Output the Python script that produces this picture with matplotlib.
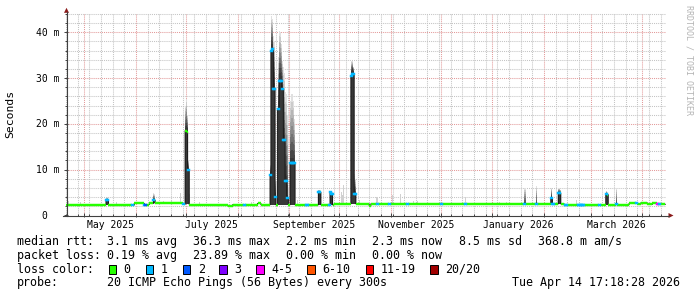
# smokeping style latency graph, one year view
import numpy as np
import pandas as pd
import matplotlib
matplotlib.use("Agg")
import matplotlib.pyplot as plt
import matplotlib.dates as mdates
import matplotlib.transforms as mtransforms
from matplotlib.collections import LineCollection
from matplotlib.patches import Polygon, Rectangle
from matplotlib.lines import Line2D
from matplotlib.ticker import MultipleLocator

plt.rcParams['font.family'] = ['DejaVu Sans Mono']

W, H = 697, 297

# time frame (12 h consolidation steps)
view_start = "2025-04-20 00:00"
view_end = "2026-04-15 04:00"
last_update = "2026-04-14 17:18"

# median rtt baseline in ms, each level holds from its date on
base_dates = ["2025-04-20", "2025-05-29", "2025-05-31", "2025-06-06", "2025-06-09",
              "2025-06-29", "2025-07-03", "2025-07-26", "2025-07-29", "2025-08-13",
              "2025-08-15", "2025-09-28", "2025-10-19", "2025-10-20", "2026-01-01",
              "2026-02-13", "2026-03-24", "2026-03-29", "2026-03-31", "2026-04-04",
              "2026-04-07", "2026-04-10"]
base_ms = [2.3, 2.25, 2.6, 2.35, 2.6,
           2.4, 2.3, 2.1, 2.3, 2.6,
           2.3, 2.5, 2.1, 2.5, 2.5,
           2.3, 2.6, 2.4, 2.7, 2.4,
           2.6, 2.4]

# spike samples: median, top of dense smoke, max ping (ms), lost pings of 20
spike_dates = ["2025-05-14 00:00", "2025-05-14 12:00", "2025-05-15 00:00",
               "2025-06-11 12:00", "2025-06-12 00:00",
               "2025-06-30 12:00", "2025-07-01 00:00", "2025-07-01 12:00",
               "2025-07-02 00:00", "2025-07-02 12:00",
               "2025-08-20 12:00", "2025-08-21 00:00", "2025-08-21 12:00",
               "2025-08-22 00:00", "2025-08-22 12:00", "2025-08-23 00:00",
               "2025-08-23 12:00", "2025-08-25 00:00", "2025-08-25 12:00",
               "2025-08-26 00:00", "2025-08-26 12:00", "2025-08-27 00:00",
               "2025-08-27 12:00", "2025-08-28 00:00", "2025-08-28 12:00",
               "2025-08-29 00:00", "2025-08-29 12:00", "2025-08-30 00:00",
               "2025-08-30 12:00", "2025-08-31 00:00",
               "2025-09-01 12:00", "2025-09-02 00:00", "2025-09-02 12:00",
               "2025-09-03 00:00", "2025-09-03 12:00", "2025-09-04 00:00",
               "2025-09-18 12:00", "2025-09-19 00:00", "2025-09-19 12:00",
               "2025-09-25 12:00", "2025-09-26 00:00", "2025-09-26 12:00",
               "2025-10-08 00:00", "2025-10-08 12:00", "2025-10-09 00:00",
               "2025-10-09 12:00", "2025-10-10 00:00", "2025-10-10 12:00",
               "2026-01-20 00:00", "2026-01-20 12:00", "2026-01-27 00:00",
               "2026-02-05 00:00", "2026-02-05 12:00",
               "2026-02-09 12:00", "2026-02-10 00:00", "2026-02-10 12:00",
               "2026-03-10 00:00", "2026-03-10 12:00", "2026-03-11 00:00",
               "2026-03-16 00:00"]
spike_med = [3.4, 3.4, 3.3,
             3.4, 3.3,
             18.5, 18.5, 18.3,
             9.8, 9.8,
             8.7, 36.0, 36.3,
             36.0, 27.6, 27.6,
             3.9, 23.2, 23.2,
             29.3, 29.3, 29.3,
             27.6, 27.6, 16.5,
             16.5, 7.6, 7.6,
             3.7, 3.7,
             11.5, 11.5, 11.5,
             11.5, 11.5, 11.5,
             5.1, 5.1, 5.0,
             5.0, 4.7, 4.7,
             30.5, 30.9, 30.9,
             30.9, 4.6, 4.6,
             2.4, 2.4, 2.4,
             3.8, 3.8,
             4.8, 4.8, 4.8,
             4.6, 4.6, 4.5,
             2.4]
spike_dense = [3.4, 3.4, 3.3,
               3.5, 3.4,
               19.0, 19.5, 19.0,
               10.5, 10.3,
               9.2, 37.5, 37.5,
               37.0, 29.5, 29.0,
               4.8, 24.5, 25.0,
               31.0, 31.0, 30.5,
               28.5, 28.5, 18.0,
               17.5, 9.0, 8.5,
               4.5, 4.2,
               12.5, 12.5, 12.5,
               12.5, 12.5, 12.0,
               5.2, 5.2, 5.1,
               5.0, 4.8, 4.8,
               31.5, 32.0, 31.8,
               31.5, 5.5, 5.0,
               2.4, 2.4, 2.4,
               4.2, 4.0,
               5.0, 5.0, 4.9,
               4.7, 4.7, 4.6,
               2.4]
spike_max = [3.8, 3.9, 3.6,
             4.8, 4.6,
             24.0, 25.5, 22.0,
             13.0, 12.0,
             11.0, 43.5, 43.0,
             41.0, 39.2, 38.0,
             8.0, 33.0, 34.5,
             40.3, 40.0, 37.5,
             33.8, 33.0, 32.4,
             31.0, 27.0, 26.5,
             22.0, 19.0,
             25.0, 26.5, 26.5,
             26.0, 25.0, 21.0,
             5.5, 5.5, 5.4,
             5.3, 5.1, 5.0,
             33.7, 33.7, 33.2,
             32.5, 9.1, 8.0,
             5.9, 5.9, 6.4,
             5.9, 5.9,
             5.9, 5.9, 5.6,
             5.3, 5.3, 5.0,
             5.9]
spike_loss = [1, 1, 0,
              1, 0,
              0, 0, 0,
              1, 1,
              1, 1, 1,
              1, 1, 1,
              1, 1, 1,
              1, 1, 1,
              1, 1, 1,
              1, 1, 1,
              1, 1,
              1, 1, 1,
              1, 1, 1,
              1, 1, 0,
              1, 1, 1,
              1, 1, 1,
              1, 1, 1,
              1, 0, 1,
              1, 1,
              1, 1, 0,
              1, 1, 0,
              1]

# light smoke puffs above the baseline: max ping in ms
puff_dates = ["2025-04-21 00:00", "2025-04-21 12:00", "2025-04-28 12:00", "2025-05-20 00:00",
              "2025-05-27 00:00", "2025-06-17 12:00", "2025-06-22 00:00", "2025-06-27 12:00",
              "2025-07-03 00:00", "2025-07-09 00:00", "2025-08-09 00:00", "2025-08-24 00:00",
              "2025-08-24 12:00", "2025-08-31 12:00", "2025-09-05 12:00", "2025-09-12 00:00",
              "2025-09-15 00:00", "2025-10-02 00:00", "2025-10-02 12:00", "2025-10-03 12:00",
              "2025-10-13 00:00", "2025-10-15 00:00", "2025-10-23 00:00", "2025-10-23 12:00",
              "2025-10-24 00:00", "2025-11-01 12:00", "2025-11-06 12:00", "2025-11-14 12:00",
              "2025-11-16 12:00", "2025-12-15 12:00", "2025-12-21 00:00", "2025-12-25 12:00",
              "2026-01-05 00:00", "2026-01-09 00:00", "2026-02-20 00:00", "2026-03-28 12:00"]
puff_max = [3.3, 3.2, 3.0, 3.0,
            3.1, 3.2, 3.1, 4.9,
            4.6, 3.0, 3.0, 7.3,
            6.5, 6.0, 3.3, 4.9,
            3.5, 5.2, 4.5, 6.6,
            3.3, 3.3, 4.0, 4.0,
            4.0, 4.4, 4.6, 3.1,
            3.1, 4.0, 3.0, 3.0,
            3.0, 3.0, 3.4, 3.0]

# baseline samples with lost pings
loss_dates = ["2025-05-29 12:00", "2025-05-30 00:00", "2025-06-06 00:00", "2025-06-06 12:00",
              "2025-06-29 00:00", "2025-06-29 12:00", "2025-08-05 00:00", "2025-09-11 00:00",
              "2025-09-11 12:00", "2025-09-25 00:00", "2025-10-23 12:00", "2025-10-24 00:00",
              "2025-10-31 00:00", "2025-11-10 12:00", "2025-12-01 00:00", "2025-12-13 12:00",
              "2025-12-15 12:00", "2026-02-06 00:00", "2026-02-06 12:00", "2026-02-13 12:00",
              "2026-02-14 00:00", "2026-02-14 12:00", "2026-02-21 12:00", "2026-02-22 00:00",
              "2026-02-22 12:00", "2026-02-23 00:00", "2026-02-23 12:00", "2026-02-24 00:00",
              "2026-02-24 12:00", "2026-03-06 00:00", "2026-03-28 00:00", "2026-04-10 00:00",
              "2026-04-10 12:00", "2026-04-11 00:00"]
loss_pings = [1, 1, 1, 2,
              1, 1, 1, 1,
              1, 1, 1, 1,
              1, 1, 1, 1,
              1, 1, 1, 1,
              1, 1, 1, 1,
              1, 1, 1, 1,
              1, 1, 1, 5,
              4, 1]

loss_levels = [0, 1, 2, 3, 5, 10, 19, 20]
loss_labels = ["0", "1", "2", "3", "4-5", "6-10", "11-19", "20/20"]
loss_colors = ["#26ff00", "#00b8ff", "#0059ff", "#7e00ff", "#ff00ff", "#ff5500", "#ff0000", "#a10000"]

label_months = ["2025-05", "2025-07", "2025-09", "2025-11", "2026-01", "2026-03"]

stat_rtt = ["median rtt:", "3.1 ms avg", "36.3 ms max", "2.2 ms min", "2.3 ms now", "8.5 ms sd", "368.8 m am/s"]
stat_loss = ["packet loss:", "0.19 % avg", "23.89 % max", "0.00 % min", "0.00 % now"]
probe_text = "20 ICMP Echo Pings (56 Bytes) every 300s"
stamp_text = "Tue Apr 14 17:18:28 2026"

# ---- build the 12 h series ----
t = pd.date_range(view_start, last_update, freq="12h")
n = len(t)
xn = mdates.date2num(t)
x_last = mdates.date2num(pd.Timestamp(last_update))
x_edges = np.r_[xn, x_last]
step_w = np.diff(x_edges)

base = np.zeros(n)
for d, v in zip(base_dates, base_ms):
    base[t >= pd.Timestamp(d)] = v
med = base.copy()
loss = np.zeros(n, dtype=int)
li = t.get_indexer(pd.to_datetime(loss_dates))
loss[li] = loss_pings
si = t.get_indexer(pd.to_datetime(spike_dates))
med[si] = spike_med
loss[si] = spike_loss
pi = t.get_indexer(pd.to_datetime(puff_dates))

def loss_class(p):
    for i, lv in enumerate(loss_levels):
        if p <= lv:
            return i
    return len(loss_levels) - 1

# ---- figure ----
fig = plt.figure(figsize=(W / 100, H / 100), dpi=100)
fig.patch.set_facecolor("white")
ax_l, ax_r, ax_b, ax_t = 66, 666, 215.3, 12.5
ax = fig.add_axes([ax_l / W, 1 - ax_b / H, (ax_r - ax_l) / W, (ax_b - ax_t) / H])
ax.set_xlim(mdates.date2num(pd.Timestamp(view_start)), mdates.date2num(pd.Timestamp(view_end)))
ax.set_ylim(0, (ax_b - ax_t) / 4.575)
for s in ax.spines.values():
    s.set_visible(False)

# grid
ax.xaxis.set_major_locator(mdates.MonthLocator())
ax.xaxis.set_minor_locator(mdates.WeekdayLocator(byweekday=mdates.SU))
ax.yaxis.set_major_locator(MultipleLocator(10))
ax.yaxis.set_minor_locator(MultipleLocator(2))
ax.grid(which="minor", color="#c4c4c4", linestyle=(0, (1, 1)), linewidth=0.75)
ax.grid(which="major", color="#e39a9a", linestyle=(0, (1, 1)), linewidth=0.75)
ax.set_axisbelow(True)
ax.tick_params(which="both", labelbottom=False, labelleft=False, color="#404040",
               direction="inout", width=0.7)
ax.tick_params(which="major", length=3.0)
ax.tick_params(which="minor", length=1.5)

# smoke
ax.bar(xn[pi], np.array(puff_max) - base[pi], bottom=base[pi], width=step_w[pi],
       align="edge", color="#d0d0d0", linewidth=0, zorder=2)
sd = np.array(spike_dense)
sm = np.array(spike_max)
ax.bar(xn[si], sd - base[si], bottom=base[si], width=step_w[si], align="edge",
       color="#383838", linewidth=0, zorder=2)
nb = 8
grays = np.linspace(0.28, 0.88, nb)
for j in range(nb):
    ax.bar(xn[si], (sm - sd) / nb, bottom=sd + (sm - sd) * j / nb, width=step_w[si],
           align="edge", color=str(grays[j]), linewidth=0, zorder=2)

# median line
ax.plot(x_edges, np.r_[med, med[-1]], drawstyle="steps-post", color="#1a1a1a",
        linewidth=0.75, zorder=3)
segs_ok, segs_lost, cols_lost = [], [], []
for i in range(n):
    seg = [(x_edges[i], med[i]), (x_edges[i + 1], med[i])]
    c = loss_class(loss[i])
    if c == 0:
        segs_ok.append(seg)
    else:
        segs_lost.append(seg)
        cols_lost.append(loss_colors[c])
ax.add_collection(LineCollection(segs_ok, colors=loss_colors[0], linewidths=1.75,
                                 capstyle="butt", zorder=4))
ax.add_collection(LineCollection(segs_lost, colors=cols_lost, linewidths=1.75,
                                 capstyle="projecting", zorder=5))

# y tick labels
ylab_tr = mtransforms.blended_transform_factory(fig.transFigure, ax.transData) + \
    mtransforms.ScaledTranslation(0, -3.5 / 100, fig.dpi_scale_trans)
for v in range(0, 50, 10):
    if v == 0:
        ax.text(47.3 / W, v, "0", transform=ylab_tr, ha="right", va="baseline",
                fontsize=7.0, clip_on=False)
    else:
        ax.text(59.6 / W, v, f"{v} m", transform=ylab_tr, ha="right", va="baseline",
                fontsize=7.0, clip_on=False)

# x labels centred on the month
xlab_tr = mtransforms.blended_transform_factory(ax.transData, fig.transFigure)
for m in label_months:
    m0 = pd.Timestamp(m + "-01")
    m1 = m0 + pd.offsets.MonthBegin(1)
    mid = mdates.date2num(m0 + (m1 - m0) / 2)
    ax.text(mid, 1 - 227.7 / H, m0.strftime("%B %Y"), transform=xlab_tr, ha="center",
            va="baseline", fontsize=7.0, clip_on=False)

def ftext(x, y, s, **kw):
    fig.text(x / W, 1 - y / H, s, **kw)

def fpts(pts):
    return [(x / W, 1 - y / H) for x, y in pts]

# axes with arrows
fig.add_artist(Line2D([66.5 / W, 66.5 / W], [1 - 215.5 / H, 1 - 12 / H], color="#404040",
                      linewidth=0.8, transform=fig.transFigure))
fig.add_artist(Line2D([63 / W, 669 / W], [1 - 215.5 / H, 1 - 215.5 / H], color="#404040",
                      linewidth=0.8, transform=fig.transFigure))
fig.add_artist(Polygon(fpts([(64, 12.8), (69, 12.8), (66.5, 7.8)]), closed=True,
                       color="#8b1a1a", transform=fig.transFigure, linewidth=0))
fig.add_artist(Polygon(fpts([(668.5, 213), (668.5, 218), (673.5, 215.5)]), closed=True,
                       color="#8b1a1a", transform=fig.transFigure, linewidth=0))

ftext(10.5, 113.7, "Seconds", rotation=90, ha="center", va="center", fontsize=8.2)
ftext(689.3, 60, "RRDTOOL / TOBI OETIKER", rotation=270, ha="center", va="center",
      fontsize=6.0, color="#b4b4b4")

# legend block
cols = [16.7, 107.3, 193.3, 285.7, 372.0, 458.7, 537.7]
for x, s in zip(cols, stat_rtt):
    ftext(x, 244.7, s, ha="left", va="baseline", fontsize=8.35)
for x, s in zip(cols, stat_loss):
    ftext(x, 258.7, s, ha="left", va="baseline", fontsize=8.35)
ftext(16.7, 272.7, "loss color:", ha="left", va="baseline", fontsize=8.35)
box_x = [108.7, 145.7, 182.7, 219.3, 256.3, 307.3, 366.0, 430.3]
for bx, lab, col in zip(box_x, loss_labels, loss_colors):
    fig.add_artist(Rectangle((bx / W, 1 - 273.5 / H), 7.3 / W, 8.5 / H, facecolor=col,
                             edgecolor="black", linewidth=0.7, transform=fig.transFigure))
    ftext(bx + 15.0, 272.7, lab, ha="left", va="baseline", fontsize=8.35)
ftext(16.7, 286.0, "probe:", ha="left", va="baseline", fontsize=8.35)
ftext(107.3, 286.0, probe_text, ha="left", va="baseline", fontsize=8.35)
ftext(680.5, 286.0, stamp_text, ha="right", va="baseline", fontsize=8.35)

fig.savefig("out.png", dpi=100)
